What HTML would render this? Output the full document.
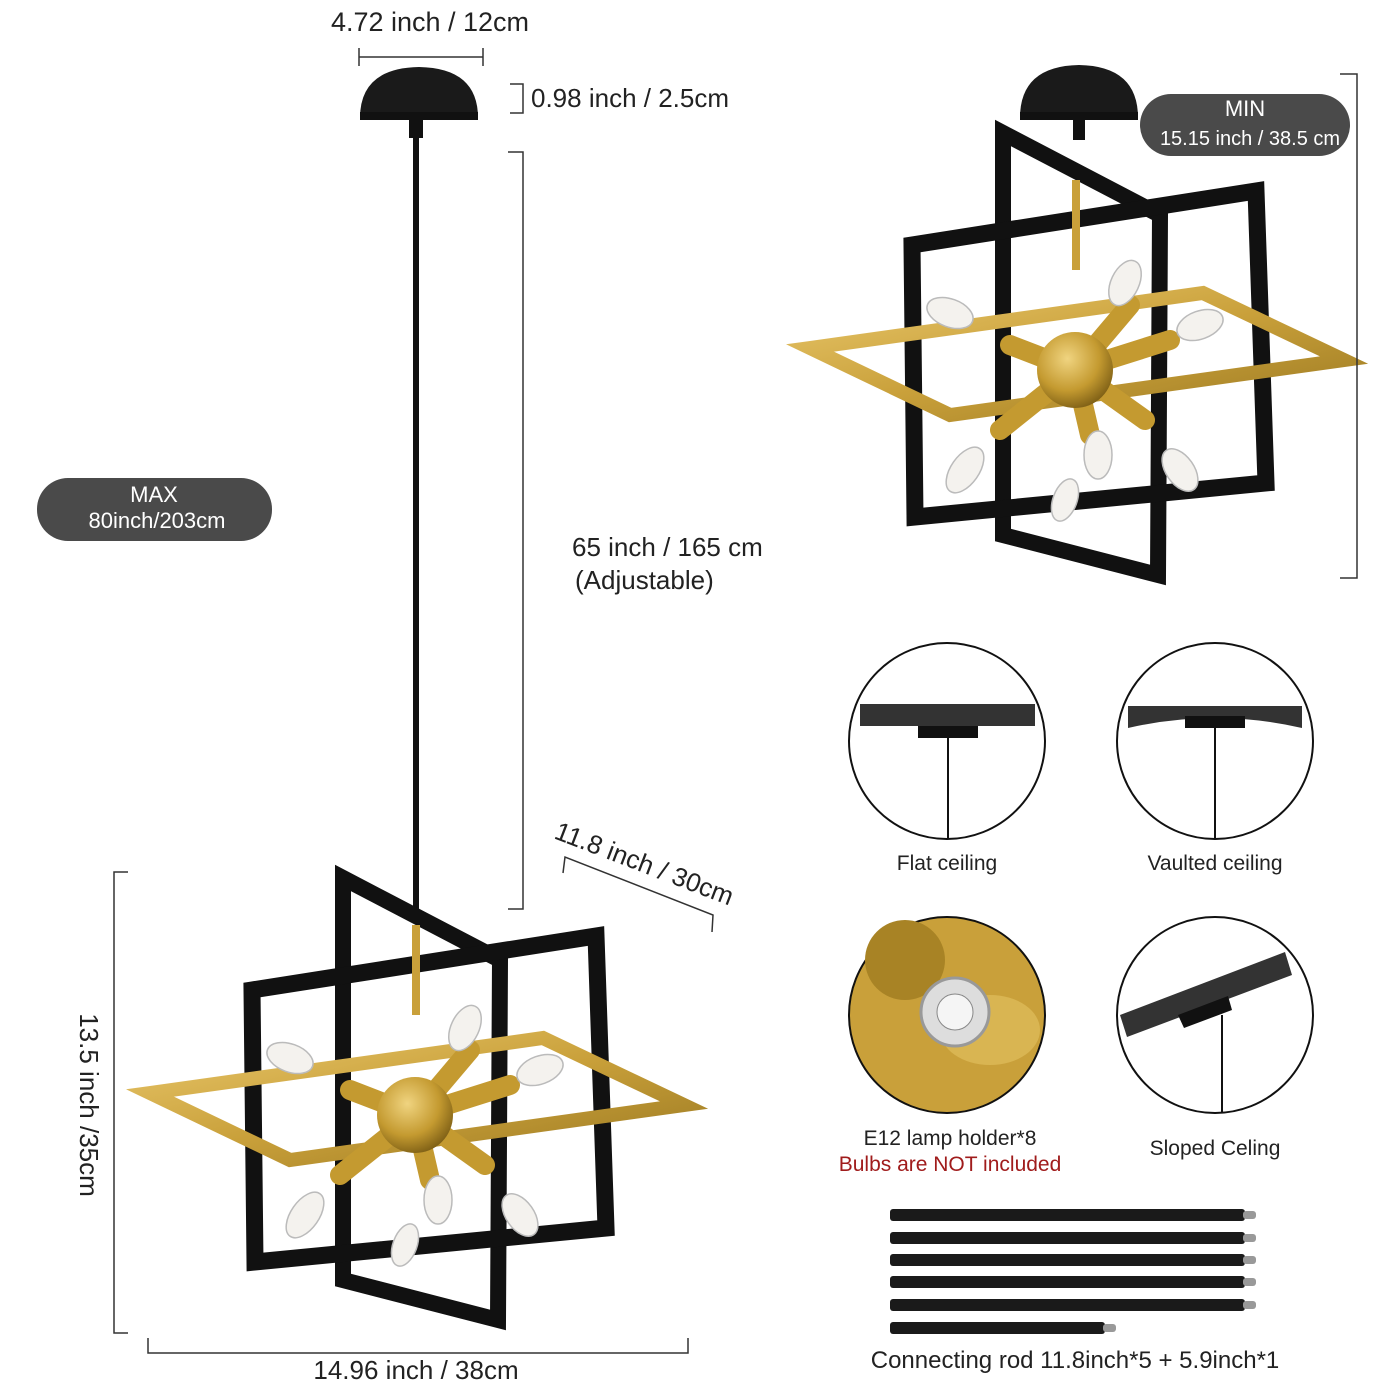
<!DOCTYPE html>
<html><head><meta charset="utf-8"><style>
html,body{margin:0;padding:0;background:#fff}
svg{display:block}
text{font-family:"Liberation Sans",Arial,sans-serif;fill:#222}
</style></head><body>
<svg width="1400" height="1400" viewBox="0 0 1400 1400" xmlns="http://www.w3.org/2000/svg">
<defs>
<linearGradient id="gold" x1="0" y1="0" x2="1" y2="1"><stop offset="0" stop-color="#e8c66a"/><stop offset="0.5" stop-color="#c9a03a"/><stop offset="1" stop-color="#9c7a22"/></linearGradient>
<radialGradient id="ball" cx="0.4" cy="0.35" r="0.7"><stop offset="0" stop-color="#f0d480"/><stop offset="0.6" stop-color="#c49a30"/><stop offset="1" stop-color="#7a5c14"/></radialGradient>
<g id="lamp">
  <polygon points="343,878 500,960 498,1320 343,1280" fill="none" stroke="#111" stroke-width="16"/>
  <polygon points="252,990 596,936 606,1228 255,1262" fill="none" stroke="#111" stroke-width="17"/>
  <rect x="412" y="925" width="8" height="90" fill="#c9a03a"/>
  <polygon points="150,1093 543,1038 684,1105 290,1160" fill="none" stroke="url(#gold)" stroke-width="14"/>
  <g stroke="#c49a30" stroke-width="20" stroke-linecap="round">
    <line x1="415" y1="1115" x2="470" y2="1050"/>
    <line x1="415" y1="1115" x2="510" y2="1085"/>
    <line x1="415" y1="1115" x2="350" y2="1090"/>
    <line x1="415" y1="1115" x2="340" y2="1175"/>
    <line x1="415" y1="1115" x2="430" y2="1180"/>
    <line x1="415" y1="1115" x2="485" y2="1165"/>
  </g>
  <circle cx="415" cy="1115" r="38" fill="url(#ball)"/>
  <g fill="#f4f2ee" stroke="#bbb" stroke-width="1.5">
    <ellipse cx="465" cy="1028" rx="14" ry="24" transform="rotate(25 465 1028)"/>
    <ellipse cx="540" cy="1070" rx="14" ry="24" transform="rotate(70 540 1070)"/>
    <ellipse cx="290" cy="1058" rx="14" ry="24" transform="rotate(-70 290 1058)"/>
    <ellipse cx="305" cy="1215" rx="14" ry="26" transform="rotate(35 305 1215)"/>
    <ellipse cx="438" cy="1200" rx="14" ry="24"/>
    <ellipse cx="520" cy="1215" rx="14" ry="24" transform="rotate(-35 520 1215)"/>
    <ellipse cx="405" cy="1245" rx="12" ry="22" transform="rotate(20 405 1245)"/>
  </g>
</g>
</defs>

<text x="430" y="31" font-size="27" text-anchor="middle">4.72 inch / 12cm</text>
<g stroke="#333" stroke-width="1.5" fill="none">
  <line x1="359" y1="57" x2="483" y2="57"/><line x1="359" y1="48" x2="359" y2="66"/><line x1="483" y1="48" x2="483" y2="66"/>
  <polyline points="510,84 523,84 523,113 510,113"/>
  <polyline points="508,152 523,152 523,909 508,909"/>
  <polyline points="128,872 114,872 114,1333 128,1333"/>
  <polyline points="148,1338 148,1353 688,1353 688,1338"/>
  <polyline points="563,873 565,857 713,915 712,932"/>
</g>
<text x="531" y="107" font-size="26">0.98 inch / 2.5cm</text>
<text x="572" y="556" font-size="26">65 inch / 165 cm</text>
<text x="575" y="589" font-size="26">(Adjustable)</text>
<text x="553" y="838" font-size="26" transform="rotate(21 553 838)">11.8 inch / 30cm</text>
<text x="80" y="1105" font-size="26" text-anchor="middle" transform="rotate(90 80 1105)">13.5 inch /35cm</text>
<text x="416" y="1379" font-size="26" text-anchor="middle">14.96 inch / 38cm</text>

<rect x="37" y="478" width="235" height="63" rx="31" fill="#4a4a4a"/>
<text x="154" y="502" font-size="22" text-anchor="middle" style="fill:#fff">MAX</text>
<text x="157" y="528" font-size="22" text-anchor="middle" style="fill:#fff">80inch/203cm</text>

<rect x="413" y="120" width="6" height="790" fill="#111"/>
<path d="M360,118 Q360,68 419,67 Q478,68 478,118 Z" fill="#1a1a1a"/>
<rect x="360" y="112" width="118" height="8" fill="#111"/>
<rect x="409" y="118" width="14" height="20" fill="#111"/>
<use href="#lamp"/>

<path d="M1020,118 Q1020,66 1079,65 Q1138,66 1138,118 Z" fill="#1a1a1a"/>
<rect x="1020" y="112" width="118" height="8" fill="#111"/>
<rect x="1073" y="118" width="12" height="22" fill="#111"/>
<g transform="translate(660 -745)"><use href="#lamp"/></g>
<polyline points="1340,74 1357,74 1357,578 1340,578" fill="none" stroke="#333" stroke-width="1.5"/>
<rect x="1140" y="94" width="210" height="62" rx="31" fill="#4a4a4a"/>
<text x="1245" y="116" font-size="22" text-anchor="middle" style="fill:#fff">MIN</text>
<text x="1250" y="145" font-size="20" text-anchor="middle" style="fill:#fff">15.15 inch / 38.5 cm</text>

<g stroke="#111" stroke-width="2" fill="#fff">
  <circle cx="947" cy="741" r="98"/>
  <circle cx="1215" cy="741" r="98"/>
  <circle cx="947" cy="1015" r="98" fill="#c9a03a"/>
  <circle cx="1215" cy="1015" r="98"/>
</g>
<rect x="860" y="704" width="175" height="22" fill="#333"/>
<rect x="918" y="726" width="60" height="12" fill="#111"/>
<line x1="948" y1="738" x2="948" y2="838" stroke="#111" stroke-width="2"/>
<path d="M1128,706 L1302,706 L1302,728 Q1215,708 1128,728 Z" fill="#333"/>
<rect x="1185" y="716" width="60" height="12" fill="#111"/>
<line x1="1215" y1="728" x2="1215" y2="838" stroke="#111" stroke-width="2"/>
<polygon points="1120,1015 1285,952 1292,975 1127,1037" fill="#333"/>
<polygon points="1178,1015 1228,996 1232,1010 1184,1028" fill="#111"/>
<line x1="1222" y1="1015" x2="1222" y2="1112" stroke="#111" stroke-width="2"/>
<circle cx="905" cy="960" r="40" fill="#a88325"/>
<ellipse cx="990" cy="1030" rx="50" ry="35" fill="#d9b552"/>
<circle cx="955" cy="1012" r="34" fill="#ddd" stroke="#999" stroke-width="3"/>
<circle cx="955" cy="1012" r="18" fill="#f5f5f5" stroke="#888"/>

<text x="947" y="870" font-size="21" text-anchor="middle">Flat ceiling</text>
<text x="1215" y="870" font-size="21" text-anchor="middle">Vaulted ceiling</text>
<text x="950" y="1145" font-size="21" text-anchor="middle">E12 lamp holder*8</text>
<text x="950" y="1171" font-size="21" text-anchor="middle" style="fill:#a01c1c">Bulbs are NOT included</text>
<text x="1215" y="1155" font-size="21" text-anchor="middle">Sloped Celing</text>

<g fill="#1a1a1a">
  <rect x="890" y="1209" width="355" height="12" rx="3"/>
  <rect x="890" y="1232" width="355" height="12" rx="3"/>
  <rect x="890" y="1254" width="355" height="12" rx="3"/>
  <rect x="890" y="1276" width="355" height="12" rx="3"/>
  <rect x="890" y="1299" width="355" height="12" rx="3"/>
  <rect x="890" y="1322" width="215" height="12" rx="3"/>
</g>
<g fill="#999">
  <rect x="1243" y="1211" width="13" height="8" rx="3"/>
  <rect x="1243" y="1234" width="13" height="8" rx="3"/>
  <rect x="1243" y="1256" width="13" height="8" rx="3"/>
  <rect x="1243" y="1278" width="13" height="8" rx="3"/>
  <rect x="1243" y="1301" width="13" height="8" rx="3"/>
  <rect x="1103" y="1324" width="13" height="8" rx="3"/>
</g>
<text x="1075" y="1368" font-size="24" text-anchor="middle">Connecting rod 11.8inch*5 + 5.9inch*1</text>
</svg>
</body></html>
